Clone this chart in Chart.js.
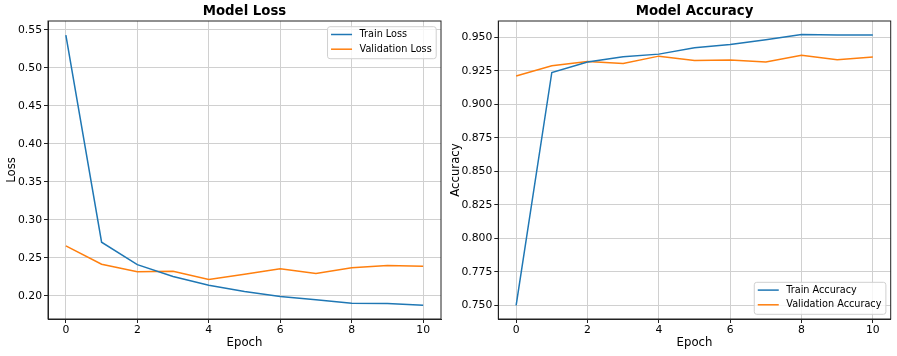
<!DOCTYPE html>
<html>
<head>
<meta charset="utf-8">
<script src="https://cdn.jsdelivr.net/npm/chart.js@4.4.1/dist/chart.umd.min.js"></script>
<style>
  html, body { margin: 0; padding: 0; background: #fff; }
  #wrap { position: relative; width: 897px; height: 356px; overflow: hidden; }
  .box { position: absolute; top: 0; height: 356px; }
  #b1 { left: 0; width: 448px; }
  #b2 { left: 448px; width: 449px; }
</style>
</head>
<body>
<div id="wrap">
  <div class="box" id="b1"><canvas id="c1" width="448" height="356"></canvas></div>
  <div class="box" id="b2"><canvas id="c2" width="449" height="356"></canvas></div>
</div>
<script>
// ---- data ----
const epochs = [0, 1, 2, 3, 4, 5, 6, 7, 8, 9, 10];
const trainLoss = [0.543, 0.2705, 0.241, 0.2254, 0.214, 0.2057, 0.199, 0.1947, 0.1903, 0.1900, 0.1877];
const valLoss = [0.2658, 0.2416, 0.2316, 0.2324, 0.2214, 0.2284, 0.2355, 0.2293, 0.2368, 0.2399, 0.2390];
const trainAcc = [0.7500, 0.9237, 0.9315, 0.9354, 0.9374, 0.9421, 0.9445, 0.9482, 0.9520, 0.9517, 0.9517];
const valAcc = [0.9211, 0.9287, 0.9319, 0.9304, 0.9359, 0.9327, 0.9330, 0.9315, 0.9366, 0.9332, 0.9352];
const xTicks = [0, 2, 4, 6, 8, 10];
const lossTicks = [0.20, 0.25, 0.30, 0.35, 0.40, 0.45, 0.50, 0.55];
const accTicks = [0.750, 0.775, 0.800, 0.825, 0.850, 0.875, 0.900, 0.925, 0.950];

const BLUE = '#1f77b4';
const ORANGE = '#ff7f0e';
const FONT = '"DejaVu Sans", "Liberation Sans", sans-serif';
Chart.defaults.font.family = FONT;
Chart.defaults.color = '#000';
Chart.defaults.animation = false;

const toPts = (ys) => epochs.map((x, i) => ({ x: x, y: ys[i] }));

const frame = {
  id: 'frame',
  afterDatasetsDraw(chart) {
    const { ctx, chartArea: a } = chart;
    ctx.save();
    ctx.strokeStyle = '#222';
    ctx.lineWidth = 1;
    ctx.strokeRect(a.left, a.top, a.right - a.left, a.bottom - a.top);
    ctx.restore();
  }
};

// axes title centred over the plot area, as matplotlib does
const axesTitle = {
  id: 'axesTitle',
  afterDraw(chart, args, opts) {
    const { ctx, chartArea: a } = chart;
    ctx.save();
    ctx.font = 'bold 13.3px ' + FONT;
    ctx.fillStyle = '#000';
    ctx.textAlign = 'center';
    ctx.textBaseline = 'middle';
    ctx.fillText(opts.text, (a.left + a.right) / 2, 12);
    ctx.restore();
  }
};

const mplLegend = {
  id: 'mplLegend',
  afterDraw(chart, args, opts) {
    const { ctx, chartArea: a } = chart;
    ctx.save();
    ctx.font = '9.7px ' + FONT;
    const ds = chart.data.datasets;
    const tw = Math.max(...ds.map(d => ctx.measureText(d.label).width));
    const w = 3.5 + 21 + 7.5 + tw + 4.5;
    const h = 32;
    const x = a.right - 4.8 - w;
    const y = opts.corner === 'br' ? a.bottom - 4.7 - h : a.top + 5.7;
    const r = 2.5;
    ctx.beginPath();
    ctx.moveTo(x + r, y);
    ctx.lineTo(x + w - r, y);
    ctx.arcTo(x + w, y, x + w, y + r, r);
    ctx.lineTo(x + w, y + h - r);
    ctx.arcTo(x + w, y + h, x + w - r, y + h, r);
    ctx.lineTo(x + r, y + h);
    ctx.arcTo(x, y + h, x, y + h - r, r);
    ctx.lineTo(x, y + r);
    ctx.arcTo(x, y, x + r, y, r);
    ctx.closePath();
    ctx.fillStyle = 'rgba(255,255,255,0.8)';
    ctx.fill();
    ctx.strokeStyle = '#d0d0d0';
    ctx.lineWidth = 1;
    ctx.stroke();
    ds.forEach((d, i) => {
      const cy = y + 7.8 + i * 14.7;
      ctx.beginPath();
      ctx.moveTo(x + 3.5, cy);
      ctx.lineTo(x + 24.5, cy);
      ctx.strokeStyle = d.borderColor;
      ctx.lineWidth = 1.5;
      ctx.stroke();
      ctx.fillStyle = '#000';
      ctx.textBaseline = 'middle';
      ctx.textAlign = 'left';
      ctx.fillText(d.label, x + 32, cy);
    });
    ctx.restore();
  }
};

function makeChart(id, cfg) {
  return new Chart(document.getElementById(id), {
    type: 'line',
    data: {
      datasets: [
        { label: cfg.labels[0], data: toPts(cfg.series[0]), borderColor: BLUE, backgroundColor: BLUE, borderWidth: 1.5, pointRadius: 0, tension: 0, fill: false },
        { label: cfg.labels[1], data: toPts(cfg.series[1]), borderColor: ORANGE, backgroundColor: ORANGE, borderWidth: 1.5, pointRadius: 0, tension: 0, fill: false }
      ]
    },
    options: {
      responsive: false,
      maintainAspectRatio: false,
      animation: false,
      events: [],
      layout: { padding: { left: 0, right: cfg.padRight, top: 21, bottom: 0 } },
      plugins: {
        legend: { display: false },
        tooltip: { enabled: false },
        title: { display: false },
        axesTitle: { text: cfg.title },
        mplLegend: { corner: cfg.corner }
      },
      scales: {
        x: {
          type: 'linear',
          min: -0.5,
          max: 10.5,
          afterBuildTicks: (s) => { s.ticks = xTicks.map(v => ({ value: v })); },
          afterFit: (s) => { s.height = 37; },
          ticks: { font: { size: 10.8, family: FONT }, color: '#000', padding: 1, maxRotation: 0, autoSkip: false,
                   callback: (v) => String(v) },
          grid: { color: '#d0d0d0', lineWidth: 1, drawTicks: true, tickLength: 4, tickColor: '#222' },
          border: { display: true, color: '#222', width: 1 },
          title: { display: true, text: 'Epoch', color: '#000', font: { size: 11.7, family: FONT, lineHeight: 1.2 }, padding: { top: 0, bottom: 5.7 } }
        },
        y: {
          type: 'linear',
          min: cfg.yMin,
          max: cfg.yMax,
          afterBuildTicks: (s) => { s.ticks = cfg.yTicks.map(v => ({ value: v })); },
          afterFit: (s) => { s.width = cfg.yWidth; },
          ticks: { font: { size: 10.8, family: FONT }, color: '#000', padding: 2, autoSkip: false,
                   callback: (v) => Number(v).toFixed(cfg.decimals) },
          grid: { color: '#d0d0d0', lineWidth: 1, drawTicks: true, tickLength: 4, tickColor: '#222' },
          border: { display: true, color: '#222', width: 1 },
          title: { display: true, text: cfg.yTitle, color: '#000', font: { size: 11.7, family: FONT, lineHeight: 1.2 }, padding: { top: cfg.yTitlePad, bottom: 0 } }
        }
      }
    },
    plugins: [frame, axesTitle, mplLegend]
  });
}

makeChart('c1', {
  title: 'Model Loss',
  labels: ['Train Loss', 'Validation Loss'],
  series: [trainLoss, valLoss],
  yMin: 0.1695, yMax: 0.5615,
  yTicks: lossTicks, decimals: 2,
  yTitle: 'Loss', yTitlePad: 4.5,
  yWidth: 48, padRight: 7,
  corner: 'tr'
});

makeChart('c2', {
  title: 'Model Accuracy',
  labels: ['Train Accuracy', 'Validation Accuracy'],
  series: [trainAcc, valAcc],
  yMin: 0.7399, yMax: 0.9621,
  yTicks: accTicks, decimals: 3,
  yTitle: 'Accuracy', yTitlePad: 0.5,
  yWidth: 50.3, padRight: 6.3,
  corner: 'br'
});
</script>
</body>
</html>
